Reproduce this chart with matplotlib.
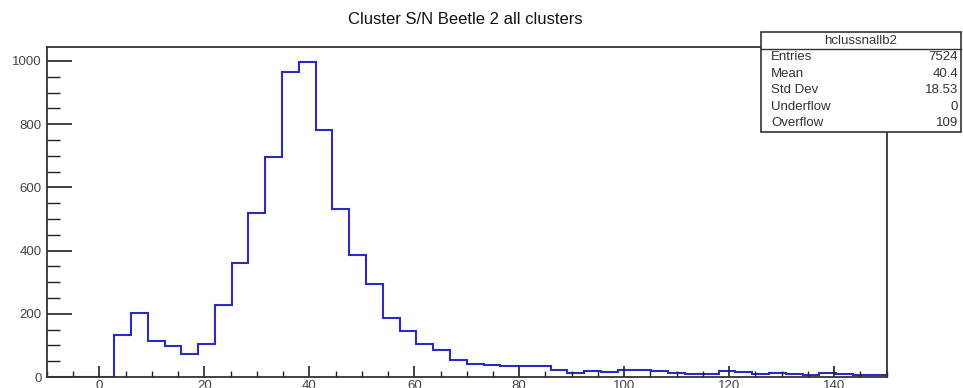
import numpy as np
import matplotlib
matplotlib.use("Agg")
import matplotlib.pyplot as plt
from matplotlib.patches import Rectangle
from matplotlib.lines import Line2D
from matplotlib.ticker import MultipleLocator

plt.rcParams['font.family'] = ['Liberation Sans', 'DejaVu Sans']

title = "Cluster S/N Beetle 2 all clusters"
hist_name = "hclussnallb2"
x_min, x_max, n_bins = -10.0, 150.0, 50
counts = [0, 0, 0, 0, 134, 204, 114, 97, 72, 103,
          229, 362, 519, 697, 966, 996, 782, 533, 385, 293,
          187, 147, 105, 85, 53, 42, 39, 35, 35, 35,
          21, 13, 19, 16, 21, 21, 20, 13, 10, 9,
          20, 15, 9, 13, 10, 6, 13, 11, 6, 6]
stat_labels = ["Entries", "Mean", "Std Dev", "Underflow", "Overflow"]
stat_values = ["7524", "40.4", "18.53", "0", "109"]

W, H = 963, 388
fig = plt.figure(figsize=(W / 100, H / 100), dpi=100)

def fx(px):
    return px / W

def fy(py):
    return 1 - py / H

L, R, T, B = 47, 886.5, 46.7, 377
ax = fig.add_axes([fx(L), fy(B), fx(R) - fx(L), fy(T) - fy(B)])

edges = np.linspace(x_min, x_max, n_bins + 1)
ax.stairs(counts, edges, color='#2b2bbf', linewidth=1.5, baseline=None)

ax.set_xlim(x_min, x_max)
ax.set_ylim(0, 1045)

ax.xaxis.set_major_locator(MultipleLocator(20))
ax.xaxis.set_minor_locator(MultipleLocator(5))
ax.yaxis.set_major_locator(MultipleLocator(200))
ax.yaxis.set_minor_locator(MultipleLocator(50))

ax.tick_params(axis='x', which='major', direction='in', length=8, width=1.2,
               labelsize=9.5, pad=2, colors='#222', labelcolor='#444')
ax.tick_params(axis='x', which='minor', direction='in', length=4.5, width=1.0, colors='#222')
ax.tick_params(axis='y', which='major', direction='in', length=18, width=1.2,
               labelsize=9.5, pad=4, colors='#222', labelcolor='#444')
ax.tick_params(axis='y', which='minor', direction='in', length=9, width=1.0, colors='#222')

for s in ax.spines.values():
    s.set_linewidth(1.3)
    s.set_color('#333')

fig.text(fx(465), fy(20), title, ha='center', va='center', fontsize=12, color='#111')

# stats box
bx0, bx1, by0, by1 = 761, 961, 32, 131.5
box = Rectangle((fx(bx0), fy(by1)), fx(bx1) - fx(bx0), fy(by0) - fy(by1),
                transform=fig.transFigure, facecolor='white', edgecolor='#333',
                linewidth=1.2, zorder=5)
fig.add_artist(box)
fig.add_artist(Line2D([fx(bx0), fx(bx1)], [fy(48.5), fy(48.5)],
                      transform=fig.transFigure, color='#333', linewidth=1.0, zorder=6))
fig.text(fx((bx0 + bx1) / 2), fy(41), hist_name, ha='center', va='center',
         fontsize=9.5, color='#333', zorder=7)
row_y = [57.5, 74, 90, 106.5, 123]
for lab, val, yy in zip(stat_labels, stat_values, row_y):
    fig.text(fx(771), fy(yy), lab, ha='left', va='center', fontsize=9.5, color='#333', zorder=7)
    fig.text(fx(958), fy(yy), val, ha='right', va='center', fontsize=9.5, color='#333', zorder=7)

fig.savefig("out.png", dpi=100)
